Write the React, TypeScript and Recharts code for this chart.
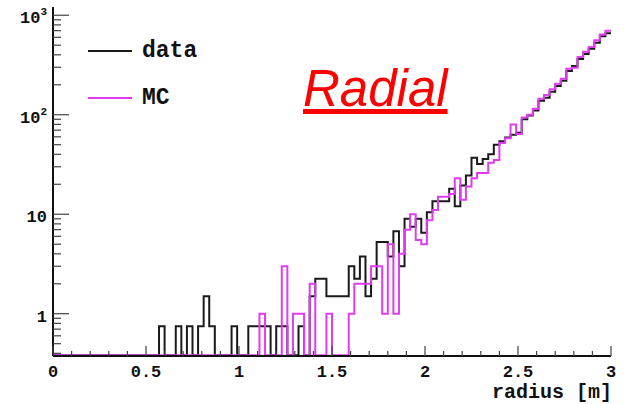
import { ComposedChart, Line, XAxis, YAxis, Legend } from 'recharts'

// histogram: 100 bins of 0.03 m between 0 and 3 m
const BIN_WIDTH = 0.03

const DATA = [
  0, 0, 0, 0, 0, 0, 0, 0, 0, 0,
  0, 0, 0, 0, 0, 0, 0, 0, 0, 0.75,
  0, 0, 0.75, 0, 0.75, 0, 0.75, 1.5, 0.75, 0,
  0, 0, 0.75, 0, 0, 0.75, 0.75, 0.75, 0.75, 0,
  0.75, 0.75, 0, 0, 0.75, 0, 1.5, 2.25, 2.25, 1.5,
  1.5, 1.5, 1.5, 3, 2.25, 3.75, 1.5, 2.25, 5.25, 5.25,
  3.75, 6.75, 3, 9, 7.5, 9, 6.5, 10.5, 13.5, 13.5,
  13.5, 18, 12, 19.5, 24.5, 37, 32, 36, 40, 50,
  54, 59, 63, 66, 90, 98, 110, 138, 148, 170,
  195, 219, 275, 309, 363, 408, 460, 530, 616, 660,
]

const MC = [
  0, 0, 0, 0, 0, 0, 0, 0, 0, 0,
  0, 0, 0, 0, 0, 0, 0, 0, 0, 0,
  0, 0, 0, 0, 0, 0, 0, 0, 0, 0,
  0, 0, 0, 0, 0, 0, 0, 1, 0, 0,
  0, 3, 0, 1, 1, 0, 2, 0, 0, 1,
  0, 0, 0, 1, 2, 2, 2, 3, 3, 1,
  5, 1, 4, 7, 10, 5.5, 5, 8.7, 11, 15,
  15, 16, 23, 14, 19, 23, 26, 26, 33, 35,
  52, 58, 80, 64, 94, 100, 115, 145, 158, 180,
  205, 230, 290, 297, 380, 430, 480, 560, 640, 700,
]

const X_TICKS = [
  0, 0.1, 0.2, 0.3, 0.4, 0.5, 0.6, 0.7, 0.8, 0.9,
  1, 1.1, 1.2, 1.3, 1.4, 1.5, 1.6, 1.7, 1.8, 1.9,
  2, 2.1, 2.2, 2.3, 2.4, 2.5, 2.6, 2.7, 2.8, 2.9, 3,
]
const Y_TICKS = [
  0.4, 0.5, 0.6, 0.7, 0.8, 0.9,
  1, 2, 3, 4, 5, 6, 7, 8, 9,
  10, 20, 30, 40, 50, 60, 70, 80, 90,
  100, 200, 300, 400, 500, 600, 700, 800, 900,
  1000,
]
const Y_LABELS: Record<number, [string, string]> = {
  1: ['1', ''],
  10: ['10', ''],
  100: ['10', '2'],
  1000: ['10', '3'],
}

const Y_MIN = 0.376
const Y_MAX = 1210
const Y_FLOOR = 0.383 // empty bins drawn just on the bottom frame

const SERIES = [
  { key: 'data', name: 'data', color: '#1a1a1a' },
  { key: 'mc', name: 'MC', color: '#e03cf0' },
]

const rows = [...DATA, DATA[DATA.length - 1]].map((v, i) => ({
  r: +(i * BIN_WIDTH).toFixed(2),
  data: Math.max(v, Y_FLOOR),
  mc: Math.max(MC[Math.min(i, MC.length - 1)], Y_FLOOR),
}))

const MONO = '"Liberation Mono", "DejaVu Sans Mono", monospace'
const TICK = '#444'
const isMajorX = (v: number) => Math.abs(v * 2 - Math.round(v * 2)) < 1e-6

function BottomTick({ x, y, payload }: any) {
  const v = payload.value
  const major = isMajorX(v)
  return (
    <g>
      <line x1={x} x2={x} y1={y} y2={y - (major ? 10 : 5)} stroke={TICK} strokeWidth={1.2} />
      {major && (
        <text x={x} y={y + 21} textAnchor="middle" fontFamily={MONO} fontWeight="bold" fontSize={17} fill="#111">
          {String(v)}
        </text>
      )}
    </g>
  )
}

function TopTick({ x, y, payload }: any) {
  const major = isMajorX(payload.value)
  return <line x1={x} x2={x} y1={y} y2={y + (major ? 10 : 5)} stroke={TICK} strokeWidth={1.2} />
}

function LeftTick({ x, y, payload }: any) {
  const lab = Y_LABELS[payload.value]
  return (
    <g>
      <line x1={x} x2={x + (lab ? 16 : 8)} y1={y} y2={y} stroke={TICK} strokeWidth={1.2} />
      {lab && (
        <text x={x - 6} y={y + 8} textAnchor="end" fontFamily={MONO} fontWeight="bold" fontSize={17} fill="#111">
          {lab[0]}
          {lab[1] && <tspan dy={-8} fontSize={11}>{lab[1]}</tspan>}
        </text>
      )}
    </g>
  )
}

function RightTick({ x, y, payload }: any) {
  const major = !!Y_LABELS[payload.value]
  return <line x1={x} x2={x - (major ? 15 : 7)} y1={y} y2={y} stroke={TICK} strokeWidth={1.2} />
}

function AxisTitle({ viewBox }: any) {
  return (
    <text
      x={viewBox.x + viewBox.width + 1}
      y={viewBox.y + 42}
      textAnchor="end"
      fontFamily={MONO}
      fontWeight="bold"
      fontSize={20}
      fill="#111"
    >
      radius [m]
    </text>
  )
}

function LegendBox() {
  return (
    <div style={{ fontFamily: MONO, fontWeight: 'bold', fontSize: 23, color: '#111' }}>
      {SERIES.map(s => (
        <div key={s.key} style={{ display: 'flex', alignItems: 'center', height: 46.5 }}>
          <span style={{ display: 'inline-block', width: 44, height: 2, background: s.color, marginRight: 10 }} />
          <span>{s.name}</span>
        </div>
      ))}
    </div>
  )
}

export default function App() {
  const axisLine = { stroke: '#111', strokeWidth: 2 }
  return (
    <div style={{ position: 'absolute', left: 0, top: 0, width: 627, height: 404, background: '#fff' }}>
      <ComposedChart width={627} height={404} data={rows} margin={{ top: 7, right: 16, bottom: 0, left: 0 }}>
        <XAxis
          xAxisId="bottom"
          dataKey="r"
          type="number"
          domain={[0, 3]}
          ticks={X_TICKS}
          interval={0}
          height={48}
          axisLine={axisLine}
          tickLine={false}
          tickSize={0}
          tickMargin={0}
          tick={(p: any) => <BottomTick {...p} />}
          label={<AxisTitle />}
        />
        <XAxis
          xAxisId="top"
          orientation="top"
          dataKey="r"
          type="number"
          domain={[0, 3]}
          ticks={X_TICKS}
          interval={0}
          height={0}
          axisLine={axisLine}
          tickLine={false}
          tickSize={0}
          tickMargin={0}
          tick={(p: any) => <TopTick {...p} />}
        />
        <YAxis
          yAxisId="left"
          scale="log"
          type="number"
          domain={[Y_MIN, Y_MAX]}
          allowDataOverflow
          ticks={Y_TICKS}
          interval={0}
          width={53}
          axisLine={axisLine}
          tickLine={false}
          tickSize={0}
          tickMargin={0}
          tick={(p: any) => <LeftTick {...p} />}
        />
        <YAxis
          yAxisId="right"
          orientation="right"
          scale="log"
          type="number"
          domain={[Y_MIN, Y_MAX]}
          allowDataOverflow
          ticks={Y_TICKS}
          interval={0}
          width={0}
          axisLine={axisLine}
          tickLine={false}
          tickSize={0}
          tickMargin={0}
          tick={(p: any) => <RightTick {...p} />}
        />
        <Legend
          layout="vertical"
          align="center"
          verticalAlign="middle"
          wrapperStyle={{ left: 88, top: 28, width: 160 }}
          content={() => <LegendBox />}
        />
        {SERIES.map(s => (
          <Line
            key={s.key}
            xAxisId="bottom"
            yAxisId="left"
            type="stepAfter"
            dataKey={s.key}
            name={s.name}
            stroke={s.color}
            strokeWidth={2}
            dot={false}
            activeDot={false}
            isAnimationActive={false}
          />
        ))}
      </ComposedChart>
      <div
        style={{
          position: 'absolute',
          left: 303,
          top: 63,
          fontFamily: '"Liberation Sans", Arial, sans-serif',
          fontStyle: 'italic',
          fontSize: 51,
          lineHeight: 1,
          color: '#ff0000',
          textDecoration: 'underline',
          whiteSpace: 'nowrap',
        }}
      >
        Radial
      </div>
    </div>
  )
}
